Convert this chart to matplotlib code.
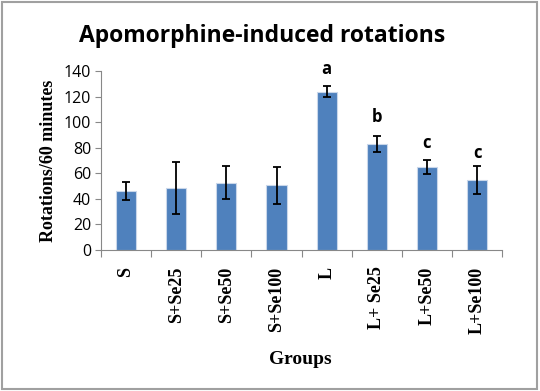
import numpy as np
import matplotlib.pyplot as plt
from matplotlib.patches import Rectangle

groups = ["S", "S+Se25", "S+Se50", "S+Se100", "L", "L+ Se25", "L+Se50", "L+Se100"]
means = [46, 48.5, 52.5, 50.5, 124, 83, 65, 55]
errors = [7, 20.5, 13, 14.5, 4.5, 6.5, 5.5, 11]
letters = ["", "", "", "", "a", "b", "c", "c"]
letter_y = [0, 0, 0, 0, 141.5, 104, 84, 76]

fig = plt.figure(figsize=(5.4, 3.91), dpi=100)
ax = fig.add_axes([0.187, 0.361, 0.743, 0.457])

x = np.arange(len(groups))
ax.bar(x, means, width=0.4, color="#4F81BD", edgecolor="#c9d7ea", linewidth=0.8, zorder=2)
ax.errorbar(x, means, yerr=errors, fmt="none", ecolor="black", elinewidth=1.3,
            capsize=3, capthick=1.3, zorder=3)

for xi, lab, ly in zip(x, letters, letter_y):
    if lab:
        ax.text(xi, ly, lab, ha="center", va="center", fontsize=12,
                fontweight="bold", family="Open Sans")

ax.set_xlim(-0.5, len(groups) - 0.5)
ax.set_ylim(0, 140)
ax.set_yticks(range(0, 141, 20))
ax.set_yticklabels([str(v) for v in range(0, 141, 20)], family="Open Sans", fontsize=11.5)

# category boundary ticks, labels centred under bars
ax.set_xticks(np.arange(-0.5, len(groups)), minor=False)
ax.set_xticklabels([])
ax.set_xticks(x, minor=True)
ax.set_xticklabels(groups, minor=True, rotation=90, family="Liberation Serif",
                   fontweight="bold", fontsize=13)
ax.tick_params(axis="x", which="minor", length=0, pad=12)
ax.tick_params(axis="x", which="major", length=5, color="#888888")
ax.tick_params(axis="y", length=4, color="#888888", pad=3)

for side in ["top", "right"]:
    ax.spines[side].set_visible(False)
for side in ["left", "bottom"]:
    ax.spines[side].set_color("#888888")

ax.set_ylabel("Rotations/60 minutes", family="Liberation Serif", fontweight="bold",
              fontsize=13, labelpad=5)
fig.text(0.557, 0.07, "Groups", ha="center", family="Liberation Serif",
         fontweight="bold", fontsize=14)
fig.text(0.486, 0.908, "Apomorphine-induced rotations", ha="center", va="center",
         family="Open Sans", fontweight="bold", fontsize=16.5)

fig.patches.append(Rectangle((0.004, 0.005), 0.99, 0.99, transform=fig.transFigure,
                             fill=False, edgecolor="#a0a0a0", linewidth=1.5))

fig.savefig("out.png", dpi=100)
